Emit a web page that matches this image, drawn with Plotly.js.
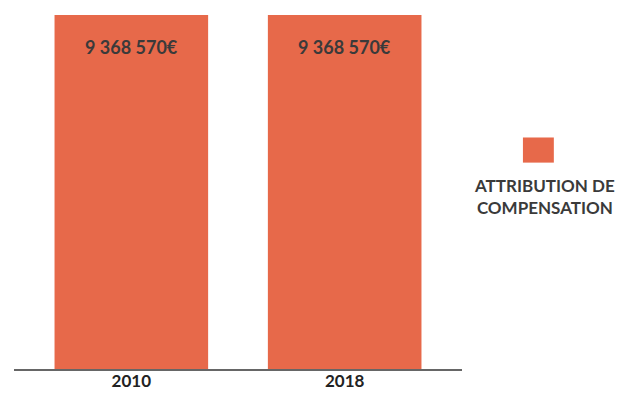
<!DOCTYPE html>
<html>
<head>
<meta charset="utf-8">
<script src="https://cdn.plot.ly/plotly-3.0.1.min.js"></script>
<style>html,body{margin:0;padding:0;background:#fff;}#chart{width:629px;height:393px;}</style>
</head>
<body>
<div id="chart"></div>
<script>
const years = ['2010', '2018'];
const compensation = [9368570, 9368570];
const seriesName = 'ATTRIBUTION DE<br>COMPENSATION';
const valueLabels = ['9 368 570€', '9 368 570€'];

const barColor = '#E7694A';
const textColor = '#3a3a3a';
const fontFamily = 'Lato, "Open Sans", sans-serif';

const trace = {
  type: 'bar',
  x: years,
  y: compensation,
  name: seriesName,
  marker: {color: barColor},
  showlegend: false,
  hoverinfo: 'none'
};

const annotations = years.map((yr, i) => ({
  x: i, y: compensation[i], xref: 'x', yref: 'y',
  text: valueLabels[i], showarrow: false,
  yanchor: 'top', yshift: -19,
  font: {family: fontFamily, size: 18, color: textColor, weight: 'bold'}
}));
annotations.push({
  xref: 'paper', yref: 'paper', x: 1.184, y: 0.555,
  xanchor: 'center', yanchor: 'top',
  text: seriesName, showarrow: false, align: 'center',
  font: {family: fontFamily, size: 17, color: textColor, weight: 'bold'}
});

const layout = {
  width: 629, height: 393,
  margin: {l: 14, r: 167, t: 15, b: 24, pad: 0},
  paper_bgcolor: '#ffffff', plot_bgcolor: '#ffffff',
  bargap: 0.28,
  xaxis: {
    type: 'category', range: [-0.55, 1.55],
    showline: true, linecolor: '#666666', linewidth: 1.5,
    ticks: '', showgrid: false, zeroline: false,
    ticklabelstandoff: -4,
    tickfont: {family: fontFamily, size: 17, color: '#222222', weight: 'bold'}
  },
  yaxis: {
    range: [0, 9368570], visible: false, showgrid: false, zeroline: false
  },
  shapes: [{
    type: 'rect', xref: 'paper', yref: 'paper',
    x0: 1.136, x1: 1.205, y0: 0.583, y1: 0.654,
    fillcolor: barColor, line: {width: 0}
  }],
  annotations: annotations
};

Plotly.newPlot('chart', [trace], layout, {displayModeBar: false, staticPlot: true});
</script>
</body>
</html>
